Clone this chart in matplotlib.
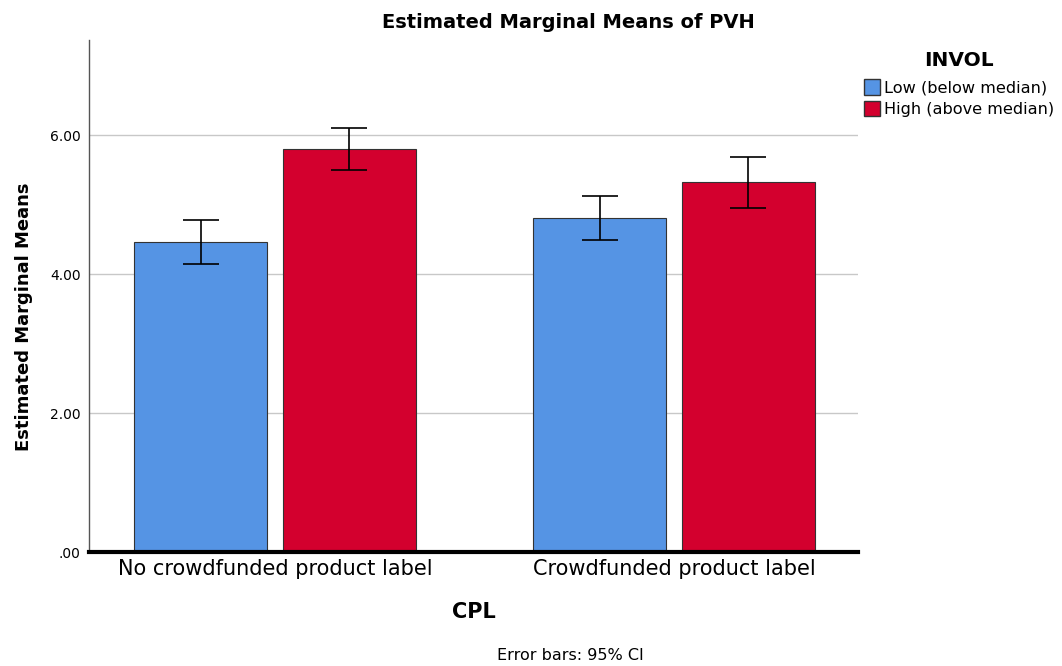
#!/usr/bin/env python3
# -*- coding: utf-8 -*-

import matplotlib
matplotlib.use('Agg')
import matplotlib.pyplot as plt
import numpy as np
from matplotlib.patches import Patch

categories = ['No crowdfunded product label', 'Crowdfunded product label']
groups = ['Low (below median)', 'High (above median)']
low_means = [4.46, 4.81]
low_ci_lo = [4.14, 4.49]
low_ci_hi = [4.78, 5.12]
high_means = [5.80, 5.32]
high_ci_lo = [5.50, 4.95]
high_ci_hi = [6.10, 5.68]
yticks = [0, 2, 4, 6]
ytick_labels = ['.00', '2.00', '4.00', '6.00']

blue = '#5594e4'
red = '#d3002e'

plt.rcParams['font.family'] = ['DejaVu Sans']

fig = plt.figure(figsize=(10.62, 6.66), dpi=100)
ax = fig.add_axes([89/1062, 1 - 552/666, (858-89)/1062, (552-40)/666])

x = np.arange(len(categories))
w = 0.333
off = 0.186

low_err = [np.array(low_means) - np.array(low_ci_lo),
           np.array(low_ci_hi) - np.array(low_means)]
high_err = [np.array(high_means) - np.array(high_ci_lo),
            np.array(high_ci_hi) - np.array(high_means)]

ax.bar(x - off, low_means, w, color=blue, edgecolor='#333333', linewidth=0.8,
       zorder=2)
ax.bar(x + off, high_means, w, color=red, edgecolor='#333333', linewidth=0.8,
       zorder=2)
ax.errorbar(x - off, low_means, yerr=low_err, fmt='none', ecolor='black',
            elinewidth=1.2, capsize=13, capthick=1.2, zorder=3)
ax.errorbar(x + off, high_means, yerr=high_err, fmt='none', ecolor='black',
            elinewidth=1.2, capsize=13, capthick=1.2, zorder=3)

ax.set_xlim(-0.466, 1.461)
ax.set_ylim(0, 7.37)
ax.set_yticks(yticks)
ax.set_yticklabels(ytick_labels, fontsize=10)
ax.set_xticks(x)
ax.set_xticklabels(categories, fontsize=15)
ax.tick_params(axis='y', length=0, pad=6)
ax.tick_params(axis='x', length=0, pad=5)
ax.yaxis.grid(True, color='#c8c8c8', linewidth=1, zorder=0)
ax.set_axisbelow(True)

for s in ['top', 'right']:
    ax.spines[s].set_visible(False)
ax.spines['left'].set_color('#555555')
ax.spines['left'].set_linewidth(1)
ax.spines['bottom'].set_color('black')
ax.spines['bottom'].set_linewidth(3)
ax.spines['bottom'].set_zorder(4)

fig.text(568/1062, 1 - 22/666, 'Estimated Marginal Means of PVH',
         ha='center', va='center', fontsize=14, fontweight='bold')
fig.text(24/1062, 1 - 317/666, 'Estimated Marginal Means', rotation=90,
         ha='center', va='center', fontsize=13, fontweight='bold')
fig.text(474/1062, 1 - 612/666, 'CPL', ha='center', va='center',
         fontsize=15, fontweight='bold')
fig.text(570/1062, 1 - 655/666, 'Error bars: 95% CI', ha='center',
         va='center', fontsize=11.5)

handles = [Patch(facecolor=blue, edgecolor='#333333', label=groups[0]),
           Patch(facecolor=red, edgecolor='#333333', label=groups[1])]
leg = fig.legend(handles=handles, title='INVOL', loc='upper left',
                 bbox_to_anchor=(849/1062, 1 - 36/666), frameon=False,
                 fontsize=11.6, handlelength=1.0, handleheight=1.15,
                 handletextpad=0.3, labelspacing=0.3)
leg.get_title().set_fontweight('bold')
leg.get_title().set_fontsize(14.5)
leg._legend_box.align = 'center'
leg._legend_box.sep = 7

fig.savefig('out.png', dpi=100)
